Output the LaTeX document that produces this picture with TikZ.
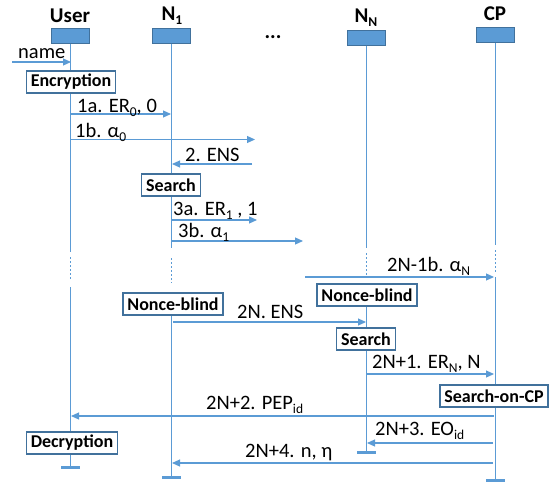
\documentclass[tikz,border=0pt]{standalone}
\usepackage{fontspec}
\setmainfont{Carlito}
\usetikzlibrary{arrows.meta,positioning}
\definecolor{lineblue}{RGB}{91,155,213}
\definecolor{edgeblue}{RGB}{65,113,156}
\newcommand{\lowidx}[1]{\raisebox{-4pt}{\fontsize{13.5}{13.5}\selectfont #1}}
\tikzset{
  head/.style={draw=edgeblue, fill=lineblue, line width=1pt, minimum width=38pt, minimum height=15pt, inner sep=0pt},
  title/.style={font=\fontsize{21}{21}\selectfont\bfseries, inner sep=0pt, anchor=base},
  act/.style={draw=edgeblue, fill=white, line width=1.3pt, font=\fontsize{18}{18}\selectfont\bfseries, inner xsep=4.5pt, minimum height=22pt},
  life/.style={lineblue, line width=1pt},
  gap/.style={lineblue, line width=0.8pt, dash pattern=on 2pt off 2pt},
  msg/.style={lineblue, line width=1.1pt, ->},
  lbl/.style={font=\fontsize{20.5}{20.5}\selectfont, inner sep=0pt, anchor=base west},
  stopbar/.style={fill=lineblue, minimum width=19pt, minimum height=3pt, inner sep=0pt},
}
\begin{document}
\begin{tikzpicture}[x=1pt,y=-1pt,>={Triangle[length=8pt,width=7pt]}]
    \useasboundingbox (0,0) rectangle (556,485);

    % heads
    \node[head] (user) at (70,35.5) {};
    \node[head] (n1) at (171,35.5) {};
    \node[head] (nn) at (366,37.5) {};
    \node[head] (cp) at (495,34.5) {};
    \node[title] (usert) at (70,22) {User};
    \node[title] (n1t) at (172,20) {N\lowidx{\bfseries 1}};
    \node[title] (nnt) at (366,22) {N\lowidx{\bfseries N}};
    \node[title] (cpt) at (495,20) {CP};
    \node[title] (dots) at (273,38) {...};

    % lifeline ends
    \coordinate (uend) at (70,467);
    \coordinate (n1end) at (171,477);
    \coordinate (nnend) at (366,452);
    \coordinate (cpend) at (495,480);

    % lifelines, broken by the dotted gap
    \draw[life] (user.south) -- (70,252);
    \draw[gap] (70,257) -- (70,279);
    \draw[life] (70,287) -- (uend);
    \draw[life] (n1.south) -- (171,248);
    \draw[gap] (171,258) -- (171,283);
    \draw[life] (171,315) -- (n1end);
    \draw[life] (nn.south) -- (366,248);
    \draw[gap] (366,253) -- (366,277);
    \draw[life] (366,306) -- (nnend);
    \draw[life] (cp.south) -- (495,245);
    \draw[gap] (495,250) -- (495,273);
    \draw[life] (495,277) -- (cpend);

    \node[stopbar] (ustop) at (uend) {};
    \node[stopbar] (n1stop) at (n1end) {};
    \node[stopbar] (nnstop) at (nnend) {};
    \node[stopbar] (cpstop) at (cpend) {};

    % actions
    \node[act] (enc) at (71,82) {Encryption};
    \node[act] (srch1) at (171,185) {Search};
    \node[act] (blind1) at (173,304) {Nonce-blind};
    \node[act] (blindn) at (367,295) {Nonce-blind};
    \node[act] (srchn) at (366,339) {Search};
    \node[act] (srchcp) at (494,396) {Search-on-CP};
    \node[act] (dec) at (72,443) {Decryption};

    % message ends
    \coordinate (in0) at (12,62);   \coordinate (in1) at (71,62);
    \coordinate (a0) at (70,114);   \coordinate (a1) at (171,114);
    \coordinate (b0) at (70,139.5); \coordinate (b1) at (255,139.5);
    \coordinate (c0) at (252,164);  \coordinate (c1) at (172,164);
    \coordinate (d0) at (172,220);  \coordinate (d1) at (257,220);
    \coordinate (e0) at (172,241);  \coordinate (e1) at (303,241);
    \coordinate (f0) at (305,277);  \coordinate (f1) at (494,277);
    \coordinate (g0) at (173,322);  \coordinate (g1) at (366,322);
    \coordinate (h0) at (367,374);  \coordinate (h1) at (494,374);
    \coordinate (k0) at (494,416);  \coordinate (k1) at (71,416);
    \coordinate (l0) at (493,443);  \coordinate (l1) at (367,443);
    \coordinate (m0) at (493,463);  \coordinate (m1) at (172,463);

    \draw[msg] (in0) -- (in1);
    \draw[msg] (a0) -- (a1);
    \draw[msg] (b0) -- (b1);
    \draw[msg] (c0) -- (c1);
    \draw[msg] (d0) -- (d1);
    \draw[msg] (e0) -- (e1);
    \draw[msg] (f0) -- (f1);
    \draw[msg] (g0) -- (g1);
    \draw[msg] (h0) -- (h1);
    \draw[msg] (k0) -- (k1);
    \draw[msg] (l0) -- (l1);
    \draw[msg] (m0) -- (m1);

    % message labels
    \node[lbl] (lin) at (18,58) {name};
    \node[lbl] (la) at (77,112) {1a. ER\lowidx{0}, 0};
    \node[lbl] (lb) at (75,137) {1b. α\lowidx{0}};
    \node[lbl] (lc) at (185,161) {2. ENS};
    \node[lbl] (ld) at (173,215) {3a. ER\lowidx{1} , 1};
    \node[lbl] (le) at (178,237) {3b. α\lowidx{1}};
    \node[lbl] (lf) at (387,271) {2N-1b. α\lowidx{N}};
    \node[lbl] (lg) at (237,318) {2N. ENS};
    \node[lbl] (lh) at (372,368) {2N+1. ER\lowidx{N}, N};
    \node[lbl] (lk) at (206,409) {2N+2. PEP\lowidx{id}};
    \node[lbl] (ll) at (375,435) {2N+3. EO\lowidx{id}};
    \node[lbl] (lm) at (245,457) {2N+4. n, η};
\end{tikzpicture}
\end{document}
